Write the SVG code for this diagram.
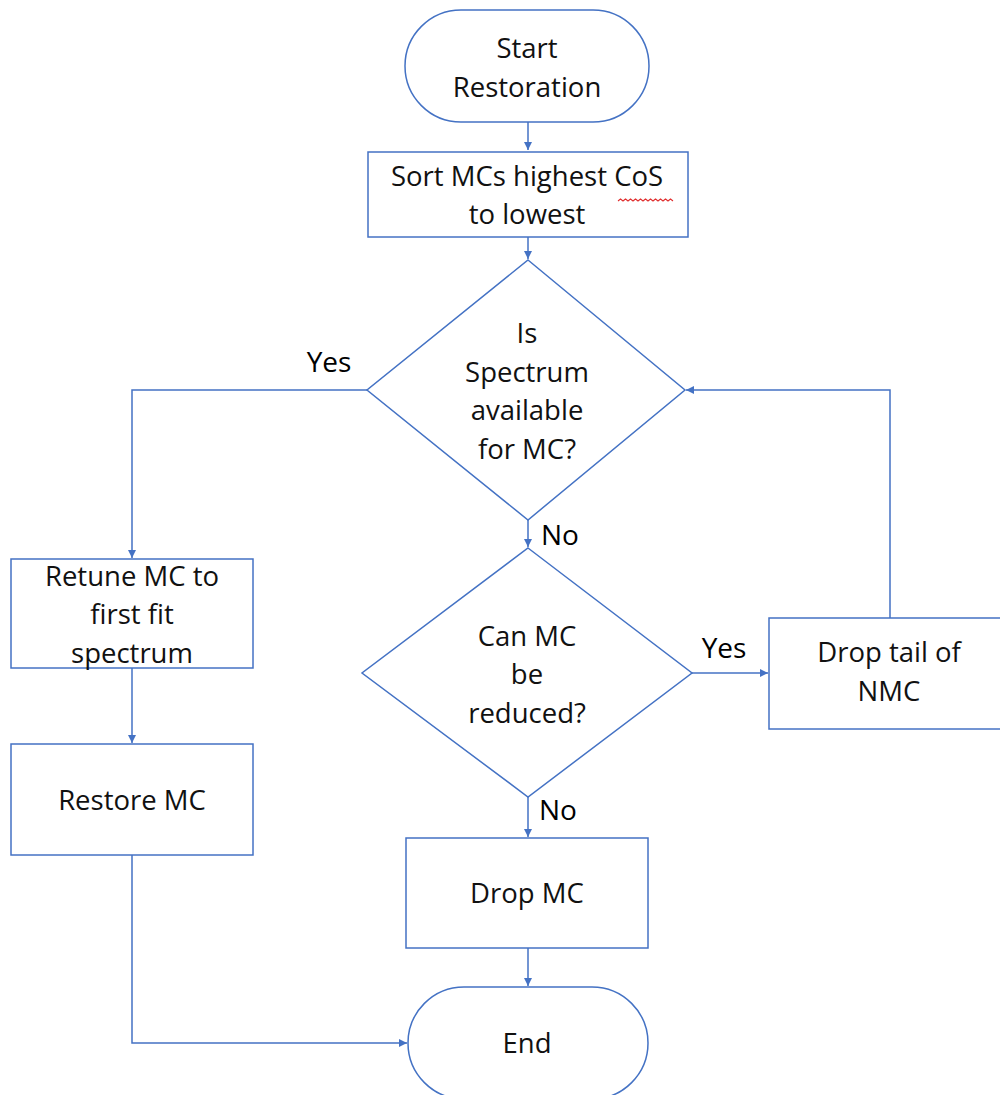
<svg xmlns="http://www.w3.org/2000/svg" width="1000" height="1095" viewBox="0 0 1000 1095">
<style>
.s{fill:#fff;stroke:#4472C4;stroke-width:1.5}
.c{fill:none;stroke:#4472C4;stroke-width:1.5}
text{font-family:"Open Sans","Liberation Sans",sans-serif;font-size:27.5px;fill:#111;text-anchor:middle}
.l{font-size:28px;fill:#000}
</style>
<defs>
<marker id="a" viewBox="0 0 10 10" refX="10" refY="5" markerWidth="8" markerHeight="8" markerUnits="userSpaceOnUse" orient="auto"><path d="M0,0L10,5L0,10z" fill="#4472C4"/></marker>
</defs>
<rect width="1000" height="1095" fill="#fff"/>
<g id="connectors">
<path class="c" d="M528,122V150" marker-end="url(#a)"/>
<path class="c" d="M528,237V259" marker-end="url(#a)"/>
<path class="c" d="M367,390H132V558" marker-end="url(#a)"/>
<path class="c" d="M528,520V547" marker-end="url(#a)"/>
<path class="c" d="M692,673H768" marker-end="url(#a)"/>
<path class="c" d="M890,618V390H686" marker-end="url(#a)"/>
<path class="c" d="M132,668V743" marker-end="url(#a)"/>
<path class="c" d="M132,855V1043H407" marker-end="url(#a)"/>
<path class="c" d="M528,797V837" marker-end="url(#a)"/>
<path class="c" d="M528,948V986" marker-end="url(#a)"/>
<text class="l" x="329" y="372">Yes</text>
<text class="l" x="560" y="545">No</text>
<text class="l" x="724" y="658">Yes</text>
<text class="l" x="558" y="820">No</text>
</g>
<g id="start">
<rect class="s" x="405" y="10" width="244" height="112" rx="56"/>
<text x="527" y="58">Start</text>
<text x="527" y="97">Restoration</text>
</g>
<g id="sort">
<rect class="s" x="368" y="152" width="320" height="85"/>
<text x="527" y="186">Sort MCs highest CoS</text>
<text x="527" y="224">to lowest</text>
<path d="M618,201 l2.5,-2 2.5,2 2.5,-2 2.5,2 2.5,-2 2.5,2 2.5,-2 2.5,2 2.5,-2 2.5,2 2.5,-2 2.5,2 2.5,-2 2.5,2 2.5,-2 2.5,2 2.5,-2 2.5,2 2.5,-2 2.5,2 2.5,-2 2.5,2" fill="none" stroke="#e03030" stroke-width="1.1"/>
</g>
<g id="spectrum">
<polygon class="s" points="528,260 685,390 528,520 367,390"/>
<text x="527" y="343">Is</text>
<text x="527" y="382">Spectrum</text>
<text x="527" y="420">available</text>
<text x="527" y="459">for MC?</text>
</g>
<g id="retune">
<rect class="s" x="11" y="559" width="242" height="109"/>
<text x="132" y="586">Retune MC to</text>
<text x="132" y="624">first fit</text>
<text x="132" y="663">spectrum</text>
</g>
<g id="restore">
<rect class="s" x="11" y="744" width="242" height="111"/>
<text x="132" y="810">Restore MC</text>
</g>
<g id="reduce">
<polygon class="s" points="528,548 692,673 528,797 362,673"/>
<text x="527" y="646">Can MC</text>
<text x="527" y="684">be</text>
<text x="527" y="723">reduced?</text>
</g>
<g id="droptail">
<rect class="s" x="769" y="618" width="240" height="111"/>
<text x="889" y="662">Drop tail of</text>
<text x="889" y="701">NMC</text>
</g>
<g id="dropmc">
<rect class="s" x="406" y="838" width="242" height="110"/>
<text x="527" y="903">Drop MC</text>
</g>
<g id="end">
<rect class="s" x="408" y="987" width="240" height="112" rx="56"/>
<text x="527" y="1053">End</text>
</g>
</svg>
